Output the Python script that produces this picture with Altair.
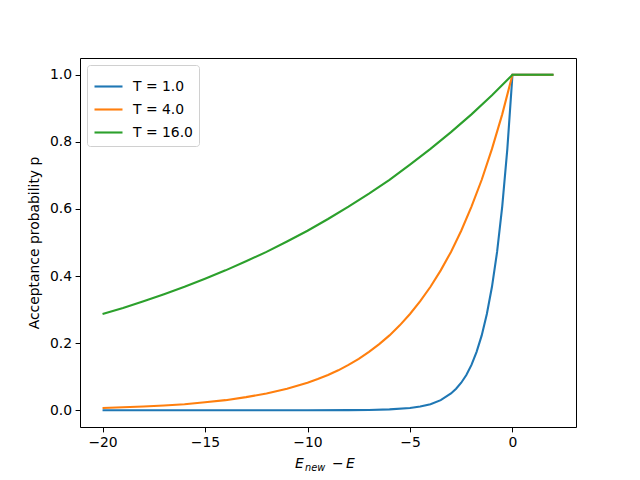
import altair as alt
import pandas as pd

# Values
x_t1 = [-20, -16, -12, -10, -8, -7, -6, -5, -4.5, -4, -3.5, -3, -2.75, -2.5, -2.25, -2, -1.75, -1.5, -1.25, -1, -0.75, -0.5, -0.25, 0, 0.5, 1, 1.5, 2]
p_t1 = [0.0, 0.0, 0.0, 0.0, 0.0003, 0.0009, 0.0025, 0.0067, 0.011, 0.018, 0.030, 0.050, 0.064, 0.082, 0.105, 0.135, 0.174, 0.223, 0.287, 0.368, 0.472, 0.607, 0.779, 1.0, 1.0, 1.0, 1.0, 1.0]

x_t4 = [-20, -19, -18, -17, -16, -15, -14, -13, -12, -11, -10, -9.5, -9, -8.5, -8, -7.5, -7, -6.5, -6, -5.5, -5, -4.5, -4, -3.5, -3, -2.5, -2, -1.5, -1, -0.5, 0, 0.5, 1, 1.5, 2]
p_t4 = [0.0067, 0.0087, 0.011, 0.014, 0.018, 0.024, 0.030, 0.039, 0.050, 0.064, 0.082, 0.093, 0.105, 0.119, 0.135, 0.153, 0.174, 0.197, 0.223, 0.253, 0.287, 0.325, 0.368, 0.417, 0.472, 0.535, 0.607, 0.687, 0.779, 0.882, 1.0, 1.0, 1.0, 1.0, 1.0]

x_t16 = [-20, -19, -18, -17, -16, -15, -14, -13, -12, -11, -10, -9, -8, -7, -6, -5, -4, -3, -2, -1, 0, 0.5, 1, 1.5, 2]
p_t16 = [0.287, 0.305, 0.325, 0.346, 0.368, 0.392, 0.417, 0.444, 0.472, 0.503, 0.535, 0.570, 0.607, 0.646, 0.687, 0.732, 0.779, 0.829, 0.882, 0.939, 1.0, 1.0, 1.0, 1.0, 1.0]

series = ["T = 1.0", "T = 4.0", "T = 16.0"]
colors = ["#1f77b4", "#ff7f0e", "#2ca02c"]

rows = []
for name, xs, ps in zip(series, [x_t1, x_t4, x_t16], [p_t1, p_t4, p_t16]):
    for i, (xv, pv) in enumerate(zip(xs, ps)):
        rows.append({"dE": xv, "p": pv, "T": name, "order": i})
df = pd.DataFrame(rows)

FS = 13.9
FONT = "DejaVu Sans"
xscale = alt.Scale(domain=[-21.1, 3.1], nice=False, zero=False)
yscale = alt.Scale(domain=[-0.05, 1.05], nice=False, zero=False)

lines = alt.Chart(df).mark_line(strokeWidth=2.1, clip=True).encode(
    x=alt.X("dE:Q", scale=xscale,
            axis=alt.Axis(values=[-20, -15, -10, -5, 0], format="d", title=None,
                          grid=False, tickSize=4.9, tickColor="black", domainColor="black",
                          labelFontSize=FS, labelFont=FONT, labelColor="black", labelPadding=3.5)),
    y=alt.Y("p:Q", scale=yscale,
            axis=alt.Axis(values=[0, 0.2, 0.4, 0.6, 0.8, 1.0], format=".1f",
                          title="Acceptance probability p", titleFontSize=FS, titleFont=FONT,
                          titleFontWeight="normal", titleColor="black", titlePadding=8,
                          grid=False, tickSize=4.9, tickColor="black", domainColor="black",
                          labelFontSize=FS, labelFont=FONT, labelColor="black", labelPadding=3.5)),
    color=alt.Color("T:N", scale=alt.Scale(domain=series, range=colors),
                    legend=alt.Legend(title=None, orient="top-left", offset=7,
                                      symbolType="stroke", symbolSize=784, symbolStrokeWidth=2.1,
                                      labelFontSize=FS, labelFont=FONT, labelColor="black",
                                      padding=6, rowPadding=-6.5, cornerRadius=3,
                                      strokeColor="#d0d0d0", fillColor="white",
                                      labelOffset=9)),
    order="order:Q",
)

frame = alt.Chart(df).mark_point(opacity=0).encode(
    x=alt.X("dE:Q", scale=xscale,
            axis=alt.Axis(orient="top", labels=False, ticks=False, grid=False, title=None,
                          domainColor="black")),
    y=alt.Y("p:Q", scale=yscale,
            axis=alt.Axis(orient="right", labels=False, ticks=False, grid=False, title=None,
                          domainColor="black")),
)

def txt(t, x, y, size, italic=True):
    return alt.Chart(alt.Data(values=[{}])).mark_text(
        text=t, align="left", baseline="alphabetic", fontSize=size, font=FONT,
        fontStyle="italic" if italic else "normal", color="black"
    ).encode(x=alt.value(x), y=alt.value(y))

title_parts = [
    txt("E", 215, 410, FS),
    txt("new", 225, 413, FS * 0.7),
    txt("\u2212", 252, 410, FS, italic=False),
    txt("E", 266, 410, FS),
]

chart = alt.layer(lines, frame, *title_parts).resolve_axis(
    x="independent", y="independent"
).properties(
    width=496, height=369,
    autosize=alt.AutoSizeParams(type="none"),
    padding={"left": 72, "top": 50, "right": 56, "bottom": 50},
).configure_view(stroke=None).configure(background="white")

chart.save("out.html", embed_options={"renderer": "svg", "actions": False})
